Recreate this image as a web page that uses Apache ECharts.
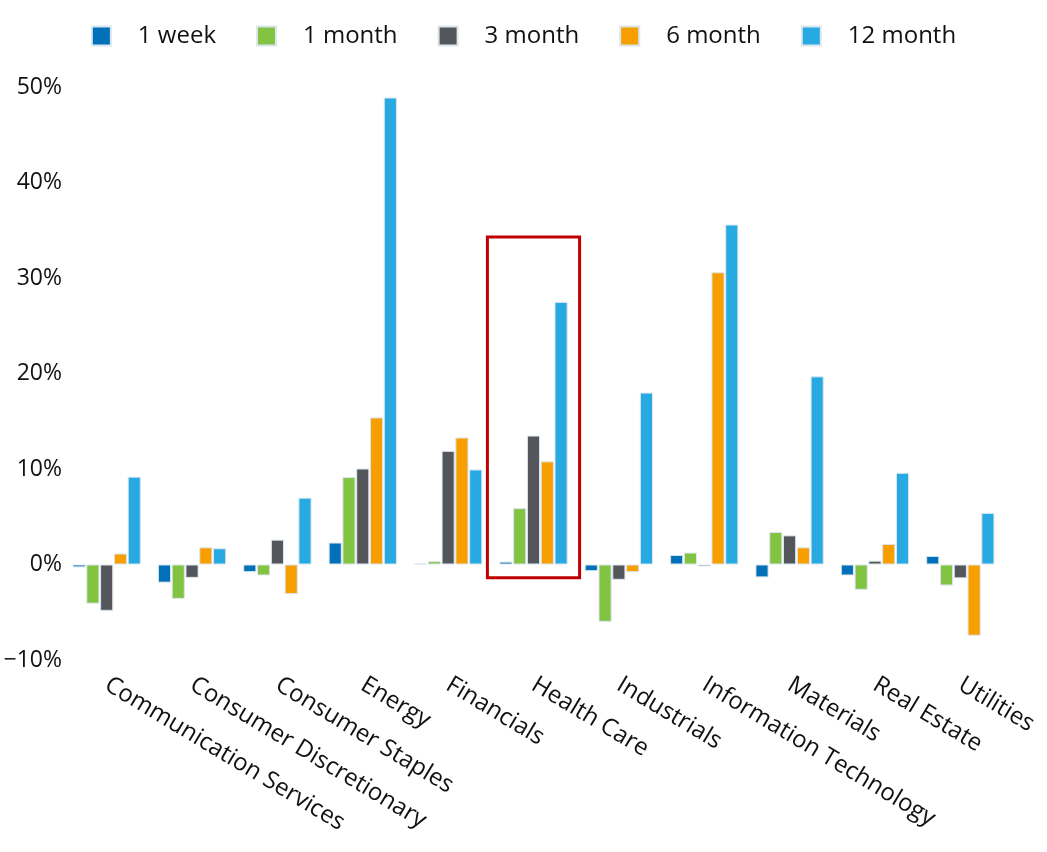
<!DOCTYPE html>
<html><head><meta charset="utf-8">
<script src="https://cdn.jsdelivr.net/npm/echarts@6/dist/echarts.min.js"></script>
<style>html,body{margin:0;padding:0;background:#fff}#c{width:1047px;height:852px}</style>
</head><body><div id="c"></div>
<script>
const categories = ["Communication Services","Consumer Discretionary","Consumer Staples","Energy","Financials","Health Care","Industrials","Information Technology","Materials","Real Estate","Utilities"];
const seriesNames = ["1 week","1 month","3 month","6 month","12 month"];
const colors = ["#0070b8","#82c341","#53565a","#f79e00","#27aae1"];
const week1   = [-0.3,-1.9,-0.8, 2.3, 0.1, 0.3,-0.7, 1.0,-1.35,-1.15, 0.9];
const month1  = [-4.1,-3.6,-1.15,9.15,0.35,5.9,-6.0, 1.25,3.4,-2.65,-2.2];
const month3  = [-4.85,-1.4,2.6,10.05,11.9,13.5,-1.6,-0.2,3.05,0.4,-1.45];
const month6  = [1.15, 1.8,-3.1,15.4,13.3,10.8,-0.8,30.6,1.8,2.15,-7.45];
const month12 = [9.2, 1.7, 7.0,48.9, 9.95,27.5,18.0,35.6,19.7,9.6,5.4];
const yTicks = [-10,0,10,20,30,40,50];
const highlight = {category:"Health Care", top:34.3, bottom:-1.4};

const allData = [week1,month1,month3,month6,month12];
const chart = echarts.init(document.getElementById('c'));
const font = "'Open Sans', sans-serif";
chart.setOption({
  animation:false,
  textStyle:{fontFamily:font},
  legend:{
    top:19, left:'center', itemWidth:19, itemHeight:19, itemGap:40,
    icon:'rect',
    textStyle:{fontSize:24, color:'#111', fontFamily:font, padding:[0,0,0,22]},
    data:seriesNames
  },
  grid:{left:64, right:44, top:87, bottom:192, containLabel:false},
  xAxis:{
    type:'category', data:categories,
    axisLine:{show:false}, axisTick:{show:false},
    axisLabel:{interval:0, rotate:-31, fontSize:24, color:'#111', fontFamily:font, margin:23, align:'left'}
  },
  yAxis:{
    type:'value', min:yTicks[0], max:yTicks[yTicks.length-1], interval:10,
    splitLine:{show:false}, axisLine:{show:false}, axisTick:{show:false},
    axisLabel:{fontSize:23, color:'#111', fontFamily:font, margin:2,
      formatter:v=> (v<0?'\u2212'+Math.abs(v):v)+'%'}
  },
  series: seriesNames.map((n,i)=>({
    name:n, type:'bar', data:allData[i],
    barGap:'5%', barCategoryGap:'20%',
    itemStyle:{color:colors[i], borderColor:'#dce6ef', borderWidth:1}
  }))
});
function drawBox(){
  const idx = categories.indexOf(highlight.category);
  const c = chart.convertToPixel({xAxisIndex:0,yAxisIndex:0},[idx, highlight.top]);
  const b = chart.convertToPixel({xAxisIndex:0,yAxisIndex:0},[idx, highlight.bottom]);
  const c2 = chart.convertToPixel({xAxisIndex:0,yAxisIndex:0},[idx+1, 0]);
  const bw = (c2[0]-c[0])*1.08;
  chart.setOption({graphic:[{type:'rect', shape:{x:c[0]-bw/2, y:c[1], width:bw, height:b[1]-c[1]},
    style:{fill:'none', stroke:'#c00000', lineWidth:3}, z:100}]});
}
drawBox();
</script></body></html>
